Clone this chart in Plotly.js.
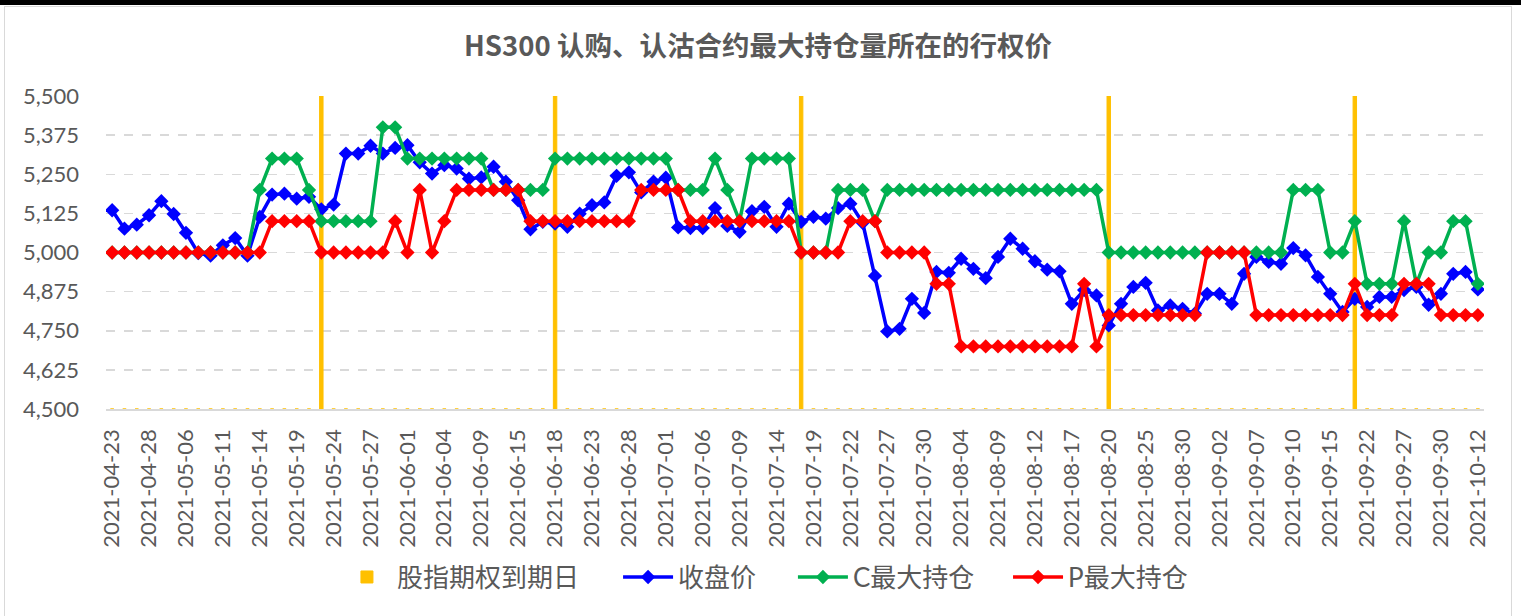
<!DOCTYPE html>
<html>
<head>
<meta charset="utf-8">
<script src="https://cdn.plot.ly/plotly-3.0.1.min.js"></script>
<style>
  body { margin: 0; background: #fff; }
  #topbar { position: absolute; left: 0; top: 0; width: 1521px; height: 5px; background: #000; }
  #frame { position: absolute; left: 4px; top: 6px; width: 1508px; height: 620px; border: 1px solid #d9d9d9; box-sizing: border-box; }
  #chart { position: absolute; left: 5px; top: 7px; width: 1506px; height: 612px; }
</style>
</head>
<body>
<div id="topbar"></div>
<div id="frame"></div>
<div id="chart"></div>
<script>
// trading days
const dates = [
  '2021-04-23','2021-04-26','2021-04-27','2021-04-28','2021-04-29','2021-04-30','2021-05-06','2021-05-07',
  '2021-05-10','2021-05-11','2021-05-12','2021-05-13','2021-05-14','2021-05-17','2021-05-18','2021-05-19',
  '2021-05-20','2021-05-21','2021-05-24','2021-05-25','2021-05-26','2021-05-27','2021-05-28','2021-05-31',
  '2021-06-01','2021-06-02','2021-06-03','2021-06-04','2021-06-07','2021-06-08','2021-06-09','2021-06-10',
  '2021-06-11','2021-06-15','2021-06-16','2021-06-17','2021-06-18','2021-06-21','2021-06-22','2021-06-23',
  '2021-06-24','2021-06-25','2021-06-28','2021-06-29','2021-06-30','2021-07-01','2021-07-02','2021-07-05',
  '2021-07-06','2021-07-07','2021-07-08','2021-07-09','2021-07-12','2021-07-13','2021-07-14','2021-07-15',
  '2021-07-16','2021-07-19','2021-07-20','2021-07-21','2021-07-22','2021-07-23','2021-07-26','2021-07-27',
  '2021-07-28','2021-07-29','2021-07-30','2021-08-02','2021-08-03','2021-08-04','2021-08-05','2021-08-06',
  '2021-08-09','2021-08-10','2021-08-11','2021-08-12','2021-08-13','2021-08-16','2021-08-17','2021-08-18',
  '2021-08-19','2021-08-20','2021-08-23','2021-08-24','2021-08-25','2021-08-26','2021-08-27','2021-08-30',
  '2021-08-31','2021-09-01','2021-09-02','2021-09-03','2021-09-06','2021-09-07','2021-09-08','2021-09-09',
  '2021-09-10','2021-09-13','2021-09-14','2021-09-15','2021-09-16','2021-09-17','2021-09-22','2021-09-23',
  '2021-09-24','2021-09-27','2021-09-28','2021-09-29','2021-09-30','2021-10-08','2021-10-11','2021-10-12'
];

const expiryDates = ['2021-05-21', '2021-06-18', '2021-07-16', '2021-08-20', '2021-09-17'];

const closePrice = [
  5135, 5076, 5089, 5119, 5164, 5123, 5063, 4998, 4990, 5023, 5046, 4990, 5114, 5185, 5188, 5172,
  5178, 5138, 5153, 5316, 5316, 5341, 5316, 5334, 5343, 5288, 5252, 5279, 5268, 5236, 5240, 5274,
  5226, 5167, 5074, 5098, 5092, 5082, 5124, 5151, 5160, 5245, 5256, 5192, 5226, 5239, 5080, 5078,
  5078, 5142, 5085, 5066, 5132, 5146, 5082, 5156, 5098, 5114, 5108, 5142, 5156, 5095, 4925, 4748,
  4756, 4852, 4807, 4938, 4935, 4980, 4948, 4918, 4986, 5044, 5012, 4972, 4945, 4940, 4836, 4880,
  4863, 4767, 4836, 4890, 4903, 4815, 4831, 4820, 4805, 4868, 4868, 4836, 4932, 4986, 4970, 4964,
  5014, 4991, 4922, 4868, 4810, 4852, 4826, 4858, 4858, 4880, 4890, 4833, 4868, 4932, 4938, 4882
];

const callMaxOI = [
  5000, 5000, 5000, 5000, 5000, 5000, 5000, 5000, 5000, 5000, 5000, 5000, 5200, 5300, 5300, 5300,
  5200, 5100, 5100, 5100, 5100, 5100, 5400, 5400, 5300, 5300, 5300, 5300, 5300, 5300, 5300, 5200,
  5200, 5200, 5200, 5200, 5300, 5300, 5300, 5300, 5300, 5300, 5300, 5300, 5300, 5300, 5200, 5200,
  5200, 5300, 5200, 5100, 5300, 5300, 5300, 5300, 5000, 5000, 5000, 5200, 5200, 5200, 5100, 5200,
  5200, 5200, 5200, 5200, 5200, 5200, 5200, 5200, 5200, 5200, 5200, 5200, 5200, 5200, 5200, 5200,
  5200, 5000, 5000, 5000, 5000, 5000, 5000, 5000, 5000, 5000, 5000, 5000, 5000, 5000, 5000, 5000,
  5200, 5200, 5200, 5000, 5000, 5100, 4900, 4900, 4900, 5100, 4900, 5000, 5000, 5100, 5100, 4900
];

const putMaxOI = [
  5000, 5000, 5000, 5000, 5000, 5000, 5000, 5000, 5000, 5000, 5000, 5000, 5000, 5100, 5100, 5100,
  5100, 5000, 5000, 5000, 5000, 5000, 5000, 5100, 5000, 5200, 5000, 5100, 5200, 5200, 5200, 5200,
  5200, 5200, 5100, 5100, 5100, 5100, 5100, 5100, 5100, 5100, 5100, 5200, 5200, 5200, 5200, 5100,
  5100, 5100, 5100, 5100, 5100, 5100, 5100, 5100, 5000, 5000, 5000, 5000, 5100, 5100, 5100, 5000,
  5000, 5000, 5000, 4900, 4900, 4700, 4700, 4700, 4700, 4700, 4700, 4700, 4700, 4700, 4700, 4900,
  4700, 4800, 4800, 4800, 4800, 4800, 4800, 4800, 4800, 5000, 5000, 5000, 5000, 4800, 4800, 4800,
  4800, 4800, 4800, 4800, 4800, 4900, 4800, 4800, 4800, 4900, 4900, 4900, 4800, 4800, 4800, 4800
];

const yMin = 4500;
const yMax = 5500;

const font = 'Lato, "Noto Sans CJK SC", sans-serif';
const gray = '#595959';

const expiryBar = dates.map(d => (expiryDates.includes(d) ? yMax - yMin : 0));

function lineTrace(y, name, color, legend) {
  return {
    x: dates,
    y: y,
    type: 'scatter',
    mode: 'lines+markers',
    name: name,
    legend: legend,
    line: { color: color, width: 3.5 },
    marker: { symbol: 'diamond', size: 11, color: color }
  };
}

const traceExpiry = {
  x: dates,
  y: expiryBar,
  base: yMin,
  type: 'bar',
  name: '股指期权到期日',
  legend: 'legend',
  width: 0.28,
  cliponaxis: false,
  marker: { color: '#FFC000', line: { color: '#FFC000', width: 1 } }
};

const data = [
  traceExpiry,
  lineTrace(closePrice, '收盘价', '#0000FF', 'legend2'),
  lineTrace(callMaxOI, 'C最大持仓', '#00B050', 'legend3'),
  lineTrace(putMaxOI, 'P最大持仓', '#FF0000', 'legend4')
];

// one legend per entry so the spacing follows the original
function legendAt(x) {
  return {
    orientation: 'h',
    x: x, xanchor: 'left',
    y: -0.537, yanchor: 'middle',
    font: { family: font, size: 26, color: gray },
    itemwidth: 50,
    bgcolor: 'rgba(0,0,0,0)'
  };
}

const layout = {
  width: 1506,
  height: 612,
  margin: { l: 101, r: 27, t: 89, b: 210 },
  paper_bgcolor: '#fff',
  plot_bgcolor: '#fff',
  font: { family: font, color: gray, size: 22 },
  title: {
    text: 'HS300 认购、认沽合约最大持仓量所在的行权价',
    font: { family: '"Noto Sans CJK SC", sans-serif', size: 27.5, color: gray, weight: 'bold' },
    x: 0.5, xref: 'container', xanchor: 'center',
    y: 0.936, yref: 'container', yanchor: 'middle'
  },
  showlegend: true,
  legend: legendAt(0.1676),
  legend2: legendAt(0.3716),
  legend3: legendAt(0.4985),
  legend4: legendAt(0.6546),
  xaxis: {
    type: 'category',
    range: [-0.5, dates.length - 0.5],
    tickmode: 'array',
    tickvals: dates.filter((d, i) => i % 3 === 0),
    tickangle: -90,
    ticks: '',
    ticklabelstandoff: 10,
    tickfont: { family: font, size: 22, color: gray },
    showgrid: false,
    showline: true,
    linecolor: '#d9d9d9',
    linewidth: 1.5,
    zeroline: false
  },
  yaxis: {
    range: [yMin, yMax],
    tickmode: 'linear',
    tick0: yMin,
    dtick: 125,
    tickformat: ',d',
    ticks: '',
    ticklabelstandoff: 26,
    tickfont: { family: font, size: 22, color: gray },
    showgrid: true,
    gridcolor: '#d9d9d9',
    griddash: 'dash',
    gridwidth: 1.5,
    showline: false,
    zeroline: false
  },
  bargap: 0
};

Plotly.newPlot('chart', data, layout, { staticPlot: true, displayModeBar: false });
</script>
</body>
</html>
